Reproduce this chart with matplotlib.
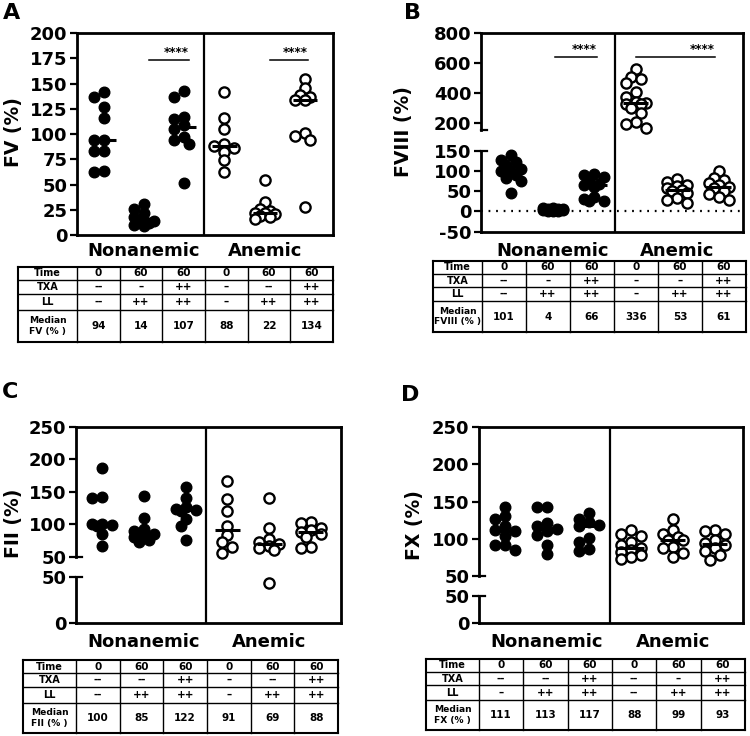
import numpy as np
import matplotlib
matplotlib.use('Agg')
import matplotlib.pyplot as plt
from matplotlib.ticker import FixedLocator, FixedFormatter

plt.rcParams['font.family'] = ['DejaVu Sans']
plt.rcParams['font.weight'] = 'bold'

W, H = 750, 736

# ---- data ----
group_names = ['Nonanemic', 'Anemic']
time_row = ['0', '60', '60', '0', '60', '60']

fv = [[142, 137, 127, 116, 94, 94, 83, 83, 63, 62],
      [31, 26, 22, 18, 14, 14, 13, 12, 10, 9],
      [143, 137, 117, 115, 109, 105, 97, 94, 90, 51],
      [142, 116, 105, 90, 88, 86, 82, 74, 62],
      [54, 33, 26, 24, 22, 22, 21, 19, 18, 16],
      [154, 146, 139, 137, 134, 134, 101, 98, 94, 28]]
fv_txa = ['--', '\u2013', '++', '\u2013', '--', '++']
fv_ll = ['--', '++', '++', '\u2013', '++', '++']
fv_median = [94, 14, 107, 88, 22, 134]

fviii = [[139, 128, 121, 115, 105, 101, 99, 90, 83, 75, 46],
         [9, 8, 7, 6, 5, 4, 4, 3, 2, 1, 0],
         [92, 90, 86, 75, 68, 66, 60, 35, 31, 27, 26],
         [562, 510, 497, 470, 410, 375, 345, 336, 330, 328, 300, 270, 208, 198, 192],
         [80, 72, 66, 62, 57, 53, 50, 45, 33, 28, 22],
         [100, 83, 78, 70, 66, 61, 58, 50, 42, 35, 29]]
fviii_txa = ['--', '\u2013', '++', '\u2013', '\u2013', '++']
fviii_ll = ['--', '++', '++', '\u2013', '++', '++']
fviii_median = [101, 4, 66, 336, 53, 61]

fii = [[187, 142, 140, 101, 100, 99, 97, 85, 67],
       [143, 109, 92, 89, 85, 85, 84, 80, 76, 73],
       [158, 141, 126, 124, 122, 120, 108, 97, 75],
       [166, 139, 120, 98, 84, 72, 65, 56],
       [141, 95, 78, 72, 69, 66, 63, 60, 43],
       [104, 102, 95, 91, 88, 85, 80, 65, 63]]
fii_txa = ['--', '--', '++', '\u2013', '--', '++']
fii_ll = ['--', '++', '++', '\u2013', '++', '++']
fii_median = [100, 85, 122, 91, 69, 88]

fx = [[142, 130, 126, 117, 112, 110, 104, 92, 91, 85],
      [142, 142, 121, 117, 113, 110, 105, 92, 80],
      [135, 127, 122, 118, 117, 101, 95, 86, 84],
      [112, 107, 104, 96, 92, 88, 85, 82, 78, 75, 73],
      [126, 112, 107, 103, 99, 99, 89, 87, 81, 76],
      [112, 111, 106, 98, 94, 92, 87, 83, 78, 72]]
fx_txa = ['--', '--', '++', '--', '\u2013', '++']
fx_ll = ['\u2013', '++', '++', '--', '++', '++']
fx_median = [111, 113, 117, 88, 99, 93]


def px_rect(x0, y0, x1, y1):
    return [x0 / W, 1 - y1 / H, (x1 - x0) / W, (y1 - y0) / H]


def piecewise(v, xp, fp):
    v = np.asarray(v, float)
    out = np.interp(v, xp, fp)
    s0 = (fp[1] - fp[0]) / (xp[1] - xp[0])
    s1 = (fp[-1] - fp[-2]) / (xp[-1] - xp[-2])
    out = np.where(v < xp[0], fp[0] + (v - xp[0]) * s0, out)
    out = np.where(v > xp[-1], fp[-1] + (v - xp[-1]) * s1, out)
    return out


def swarm_offsets(vals, ypx, unit_px, step=5.0, min_d=8.0, max_k=2):
    # simple deterministic beeswarm, top value first
    order = np.argsort(-np.asarray(vals, float), kind='stable')
    cands = [0]
    for k in range(1, max_k + 1):
        cands += [-k, k]
    placed = []
    offs = np.zeros(len(vals))
    for i in order:
        best, best_d = 0.0, -1.0
        for k in cands:
            xo = k * step
            d = min([np.hypot(xo - px, ypx[i] - py) for px, py in placed], default=1e9)
            if d >= min_d:
                best = xo
                break
            if d > best_d:
                best, best_d = xo, d
        placed.append((best, ypx[i]))
        offs[i] = best / unit_px
    return offs


def draw_panel(box, xlim, data, ylim, kv, kp, ticks, ticklabels,
               brk=None, sig=None, sig_y=None, dotted=False, name_off=16):
    ax = fig.add_axes(px_rect(*box))
    fwd = lambda v: piecewise(v, kv, kp)
    inv = lambda p: piecewise(p, kp, kv)
    ax.set_yscale('function', functions=(fwd, inv))
    ax.set_xlim(*xlim)
    ax.set_ylim(*ylim)
    w_px = box[2] - box[0]
    h_px = box[3] - box[1]
    unit_px = w_px / (xlim[1] - xlim[0])
    p0, p1 = fwd(ylim[0]), fwd(ylim[1])

    for gi, vals in enumerate(data):
        g = gi + 1
        vals = np.asarray(vals, float)
        ypx = (fwd(vals) - p0) * h_px / (p1 - p0)
        xs = g + swarm_offsets(vals, ypx, unit_px)
        if g <= 3:
            ax.scatter(xs, vals, s=58, color='black', zorder=3, clip_on=False)
        else:
            ax.scatter(xs, vals, s=54, facecolor='white', edgecolor='black',
                       linewidth=1.7, zorder=3, clip_on=False)
        ax.hlines(np.median(vals), g - 0.3, g + 0.3, color='black', lw=2.2, zorder=4)

    ax.axvline(3.5, color='black', lw=1.6)
    if dotted:
        ax.axhline(0, color='black', lw=1.6, ls=(0, (0.8, 2.6)), zorder=1)

    for s in ['top', 'right', 'bottom', 'left']:
        ax.spines[s].set_linewidth(2)
    ax.set_xticks([])
    ax.yaxis.set_major_locator(FixedLocator(ticks))
    ax.yaxis.set_major_formatter(FixedFormatter(ticklabels))
    ax.yaxis.set_minor_locator(FixedLocator([]))
    ax.tick_params(axis='y', direction='out', length=5, width=1.6,
                   labelsize=13, pad=2)

    if brk is not None:
        ax.spines['left'].set_visible(False)
        tr = ax.get_yaxis_transform()
        cap = 6.0 / w_px
        ax.plot([0, 0], [ylim[0], brk[0]], transform=tr, color='black', lw=2,
                clip_on=False, solid_capstyle='projecting')
        ax.plot([0, 0], [brk[1], ylim[1]], transform=tr, color='black', lw=2,
                clip_on=False, solid_capstyle='projecting')
        for yb in brk:
            ax.plot([0, cap], [yb, yb], transform=tr, color='black', lw=1.6,
                    clip_on=False)

    if sig is not None:
        for x0, x1 in sig:
            ax.plot([x0, x1], [sig_y, sig_y], color='black', lw=1.1)
            ax.annotate('****', xy=(x1, sig_y), xytext=(0, 1), textcoords='offset points',
                        ha='right', va='bottom', fontsize=8.5)

    tr = ax.get_xaxis_transform()
    ax.text(2, -name_off / h_px, group_names[0], transform=tr, ha='center',
            va='center', fontsize=13)
    ax.text(5, -name_off / h_px, group_names[1], transform=tr, ha='center',
            va='center', fontsize=13)
    return ax


def draw_table(x0, x1, xc, rows_px, label, txa, ll, med):
    tax = fig.add_axes(px_rect(x0, rows_px[0], x1, rows_px[-1]))
    tax.set_xlim(x0, x1)
    tax.set_ylim(rows_px[-1], rows_px[0])
    tax.axis('off')
    cols = np.linspace(xc, x1, 7)
    for y in rows_px:
        lw = 1.5 if y in (rows_px[0], rows_px[-1]) else 1.0
        tax.plot([x0, x1], [y, y], color='black', lw=lw, clip_on=False)
    for x in [x0] + list(cols):
        lw = 1.5 if x in (x0, x1) else 1.0
        tax.plot([x, x], [rows_px[0], rows_px[-1]], color='black', lw=lw, clip_on=False)
    row_labels = ['Time', 'TXA', 'LL', 'Median\n' + label + ' (% )']
    rows = [time_row, txa, ll, [str(m) for m in med]]
    for r in range(4):
        yc = (rows_px[r] + rows_px[r + 1]) / 2
        fs = 7 if r < 3 else 6.6
        tax.text((x0 + xc) / 2, yc, row_labels[r], ha='center', va='center',
                 fontsize=fs, linespacing=1.15)
        for c in range(6):
            tax.text((cols[c] + cols[c + 1]) / 2, yc, rows[r][c], ha='center',
                     va='center', fontsize=7.5)


fig = plt.figure(figsize=(7.5, 7.36), dpi=100)

# A
draw_panel((77, 33, 333, 235), (0.33, 6.7), fv, (0, 200), [0, 200], [0, 202],
           list(range(0, 201, 25)), [str(t) for t in range(0, 201, 25)],
           sig=[(2.13, 3.12), (5.12, 6.08)], sig_y=173, name_off=16)
draw_table(18, 333, 77, [267, 280, 294, 310, 342], 'FV', fv_txa, fv_ll, fv_median)

# B
b_ticks = [-50, 0, 50, 100, 150, 200, 400, 600, 800]
draw_panel((481, 33.3, 743, 231.7), (0.28, 6.58), fviii, (-50, 800),
           [-50, 150, 200, 800], [0, 81, 108.4, 198.4],
           b_ticks, [str(t) for t in b_ticks], brk=(150, 188),
           sig=[(2.07, 3.07), (4.0, 5.9)], sig_y=640, dotted=True, name_off=19)
draw_table(433, 746, 482, [261, 274, 287, 301, 332], 'FVIII', fviii_txa, fviii_ll, fviii_median)

# C
cd_ticks = [0, 50, 50.01, 100, 150, 200, 250]
cd_labels = ['0', '50', '50', '100', '150', '200', '250']
draw_panel((76, 427, 341, 623), (0.38, 6.72), fii, (0, 250),
           [0, 50, 50.01, 250], [0, 46.3, 66.3, 196], cd_ticks, cd_labels,
           brk=(50, 50.01), name_off=19)
draw_table(23, 338, 76, [660, 673, 687, 703, 733], 'FII', fii_txa, fii_ll, fii_median)

# D
draw_panel((479, 427, 743, 623), (0.38, 6.67), fx, (0, 250),
           [0, 50, 50.01, 250], [0, 27, 47, 196], cd_ticks, cd_labels,
           brk=(50, 50.01), name_off=19)
draw_table(426, 745, 479, [659, 672, 685, 700, 730], 'FX', fx_txa, fx_ll, fx_median)

# axis titles and panel letters
for x, y, t in [(14, 132, 'FV (%)'), (403, 132, 'FVIII (%)'),
                (14, 523, 'FII (%)'), (414, 525, 'FX (%)')]:
    fig.text(x / W, 1 - y / H, t, rotation=90, ha='center', va='center', fontsize=13.5)
for x, y, t in [(12, 13, 'A'), (412, 13, 'B'), (10, 392, 'C'), (410, 395, 'D')]:
    fig.text(x / W, 1 - y / H, t, ha='center', va='center', fontsize=16)

fig.savefig('out.png', dpi=100)
